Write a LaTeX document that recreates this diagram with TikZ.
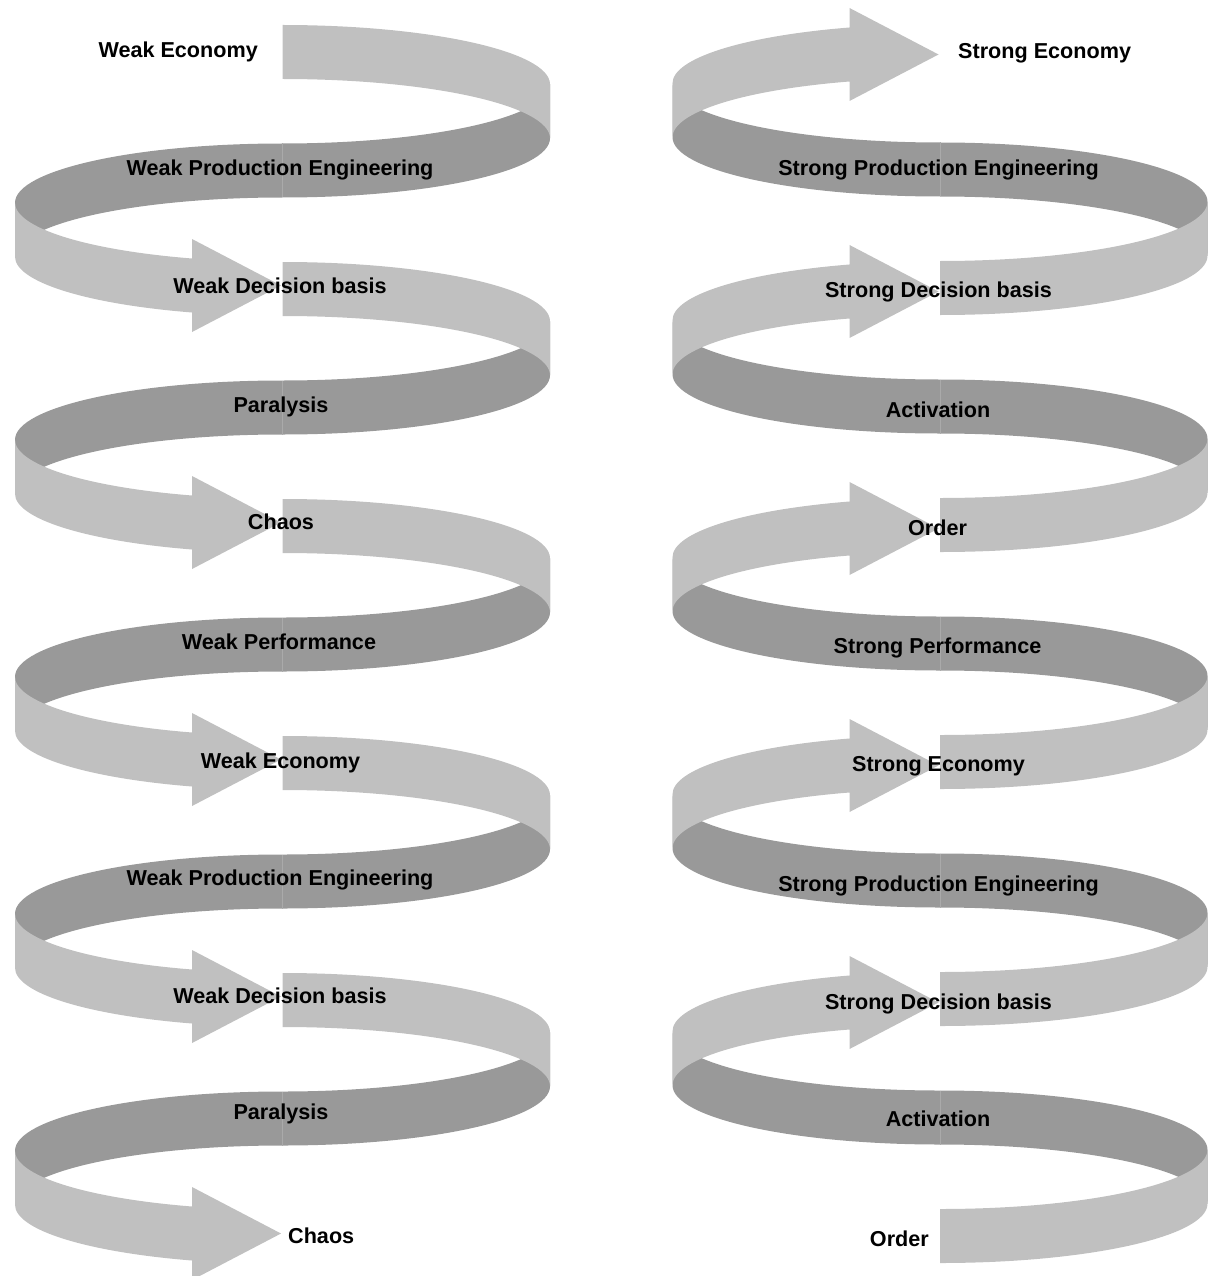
\documentclass[tikz,border=0pt]{standalone}
\usepackage{fontspec}
\setmainfont{Liberation Sans}
\definecolor{bandlight}{RGB}{192,192,192}
\definecolor{banddark}{RGB}{153,153,153}
\definecolor{seamgray}{RGB}{170,170,170}

% geometry of one helix (in px-like units, image y measured downwards)
\def\Cx{282.5}   % axis of the helix
\def\ax{267.5}   % horizontal radius
\def\ry{59.25}   % vertical radius (a quarter of the pitch)
\def\hb{54}      % height of the band

\newcommand\drawhelix{%
  % back side of the band
  \foreach \i in {0,...,4}{%
    \pgfmathsetmacro\yo{25+237*\i}
    \fill[banddark] (\Cx+\ax,-\yo-\ry)
      arc[start angle=0,end angle=-90,x radius=\ax,y radius=\ry]
      -- ++(0,-\hb)
      arc[start angle=-90,end angle=0,x radius=\ax,y radius=\ry] -- cycle;
    \fill[banddark] (\Cx,-\yo-2*\ry)
      arc[start angle=90,end angle=180,x radius=\ax,y radius=\ry]
      -- ++(0,-\hb)
      arc[start angle=180,end angle=90,x radius=\ax,y radius=\ry] -- cycle;
    \draw[seam] (\Cx,-\yo-2*\ry) -- ++(0,-\hb);
  }
  % front side of the band, each turn ending in an arrow head
  \foreach \i in {0,...,4}{%
    \pgfmathsetmacro\yo{25+237*\i}
    \fill[bandlight] (\Cx,-\yo)
      arc[start angle=90,end angle=0,x radius=\ax,y radius=\ry]
      -- ++(0,-\hb)
      arc[start angle=0,end angle=90,x radius=\ax,y radius=\ry] -- cycle;
    \fill[bandlight] (\Cx-\ax,-\yo-3*\ry)
      arc[start angle=180,end angle=250.23,x radius=\ax,y radius=\ry]
      -- ++(0,19.5) -- ++(89,-46.5) -- ++(-89,-46.5) -- ++(0,19.5)
      arc[start angle=250.23,end angle=180,x radius=\ax,y radius=\ry] -- cycle;
  }%
}

\begin{document}
\begin{tikzpicture}[x=1pt,y=1pt,
  seam/.style={draw=seamgray,line width=0.8pt},
  lbl/.style={font=\bfseries\fontsize{21.6}{24}\selectfont,inner sep=0pt,text=black}]
\useasboundingbox (0,0) rectangle (1209,-1276);
\clip (0,0) rectangle (1209,-1276);

% descending spiral
\drawhelix
% ascending spiral: the same helix mirrored top to bottom
\begin{scope}[shift={(657.5,-1288)},yscale=-1]
  \drawhelix
\end{scope}

% labels of the descending spiral
\node[lbl,anchor=base east] (w1) at (258,-58) {Weak Economy};
\node[lbl,anchor=base] (w2) at (280,-176) {Weak Production Engineering};
\node[lbl,anchor=base] (w3) at (280,-293) {Weak Decision basis};
\node[lbl,anchor=base] (w4) at (281,-412) {Paralysis};
\node[lbl,anchor=base] (w5) at (281,-529) {Chaos};
\node[lbl,anchor=base] (w6) at (279,-649) {Weak Performance};
\node[lbl,anchor=base] (w7) at (280.5,-768) {Weak Economy};
\node[lbl,anchor=base] (w8) at (280,-885) {Weak Production Engineering};
\node[lbl,anchor=base] (w9) at (280,-1003) {Weak Decision basis};
\node[lbl,anchor=base] (w10) at (281,-1119) {Paralysis};
\node[lbl,anchor=base west] (w11) at (288,-1243) {Chaos};

% labels of the ascending spiral
\node[lbl,anchor=base west] (s1) at (958,-59) {Strong Economy};
\node[lbl,anchor=base] (s2) at (938.5,-176) {Strong Production Engineering};
\node[lbl,anchor=base] (s3) at (938.5,-297) {Strong Decision basis};
\node[lbl,anchor=base] (s4) at (938,-417) {Activation};
\node[lbl,anchor=base] (s5) at (937.5,-535) {Order};
\node[lbl,anchor=base] (s6) at (937.5,-653) {Strong Performance};
\node[lbl,anchor=base] (s7) at (938.5,-771) {Strong Economy};
\node[lbl,anchor=base] (s8) at (938.5,-891) {Strong Production Engineering};
\node[lbl,anchor=base] (s9) at (938.5,-1009) {Strong Decision basis};
\node[lbl,anchor=base] (s10) at (938,-1126) {Activation};
\node[lbl,anchor=base east] (s11) at (929,-1246) {Order};
\end{tikzpicture}
\end{document}
